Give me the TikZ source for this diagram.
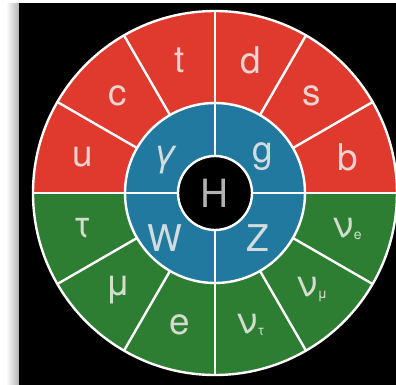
\documentclass[tikz,border=0pt]{standalone}
\usepackage{fontspec}
\setmainfont{TeX Gyre Heros}
\usepackage{tikz}
\usetikzlibrary{calc}
\definecolor{quark}{RGB}{224,58,47}
\definecolor{lepton}{RGB}{45,126,50}
\definecolor{boson}{RGB}{34,121,160}
\definecolor{glyph}{RGB}{240,238,234}

\begin{document}
\begin{tikzpicture}[x=1bp, y=1bp,
    particle/.style={text=glyph, text opacity=0.85, inner sep=0pt, font=\fontsize{37}{37}\selectfont},
    divider/.style={white, line width=2.4bp}]
    \useasboundingbox (-215,-192) rectangle (181,193);
    \fill[white] (-215,-192) rectangle (181,193);
    \shade[left color=white, right color=black!30] (-209,-192) rectangle (-196,190);
    \fill[black] (-196,-192) rectangle (181,190);
    % quarks on top, leptons below
    \fill[quark] (0,0) -- (0:182) arc (0:180:182) -- cycle;
    \fill[lepton] (0,0) -- (180:182) arc (180:360:182) -- cycle;
    \fill[boson] (0,0) circle (90);
    \fill[black] (0,0) circle (37);
    \foreach \a in {0,30,...,330}
        \draw[divider] (\a:90) -- (\a:182);
    \foreach \a in {0,90,180,270}
        \draw[divider] (\a:37) -- (\a:90);
    \draw[divider] (0,0) circle (182) circle (90) circle (37);
    % outer ring
    \foreach \n/\a in {u/165, c/135, t/105, d/75, s/45, b/15}
        \node[particle] (\n) at (\a:137) {\n};
    \node[particle] (tau) at (195:137) {τ};
    \node[particle] (mu) at (225:137) {μ};
    \node[particle] (e) at (255:137) {e};
    \node[particle] (nutau) at (285:137) {ν\raisebox{-2bp}{\fontsize{14}{14}\selectfont τ}};
    \node[particle] (numu) at (315:137) {ν\raisebox{-2bp}{\fontsize{14}{14}\selectfont μ}};
    \node[particle] (nue) at (345:137) {ν\raisebox{-2bp}{\fontsize{14}{14}\selectfont e}};
    % bosons
    \node[particle] (gamma) at (-50,33) {\itshape γ};
    \node[particle] (g) at (48,36) {g};
    \node[particle] (W) at (-50,-45) {W};
    \node[particle] (Z) at (43,-45) {Z};
    \node[particle, text=glyph!75!gray, font=\fontsize{39}{39}\selectfont] (H) at (0,0) {H};
\end{tikzpicture}
\end{document}
